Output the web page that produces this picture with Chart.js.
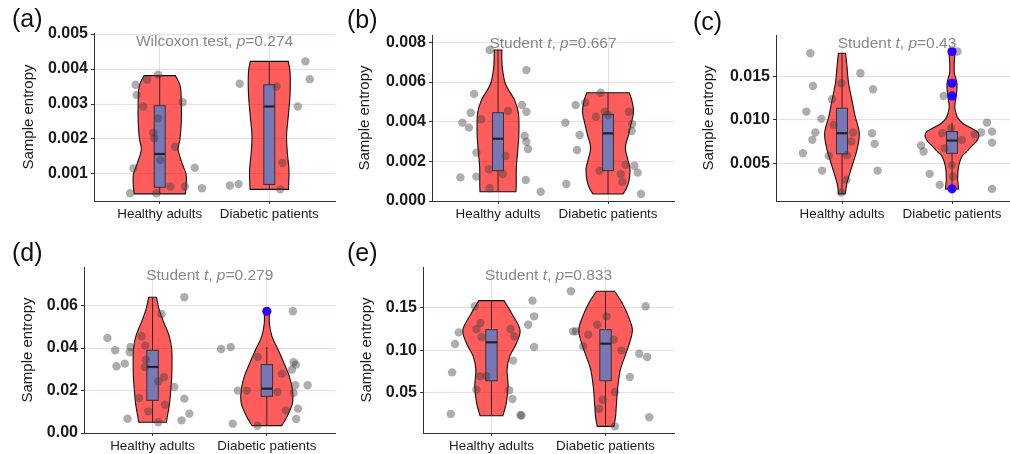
<!DOCTYPE html>
<html>
<head>
<meta charset="utf-8">
<script src="https://cdn.jsdelivr.net/npm/chart.js@4.4.0/dist/chart.umd.min.js"></script>
<style>
  html, body { margin: 0; padding: 0; background: #fff; width: 1010px; height: 454px; overflow: hidden; position: relative; }
  canvas { position: absolute; }
</style>
</head>
<body>
<canvas id="pa" width="340" height="228" style="left:0px;top:0px"></canvas>
<canvas id="pb" width="340" height="228" style="left:340px;top:0px"></canvas>
<canvas id="pc" width="345" height="228" style="left:680px;top:0px"></canvas>
<canvas id="pd" width="340" height="226" style="left:0px;top:228px"></canvas>
<canvas id="pe" width="340" height="226" style="left:340px;top:228px"></canvas>
<script>
// ---- data ----
const categories = ['Healthy adults', 'Diabetic patients'];
const panelTags = ['(a)', '(b)', '(c)', '(d)', '(e)'];
const testTypes = ['wilcoxon', 'student', 'student', 'student', 'student'];
const pValues = ['0.274', '0.667', '0.43', '0.279', '0.833'];

const yRanges = [[0.000227, 0.00503], [0, 0.00837], [0.00064, 0.0198], [0, 0.0782], [0.0018, 0.1986]];
const yTickValues = [
  [0.001, 0.002, 0.003, 0.004, 0.005],
  [0, 0.002, 0.004, 0.006, 0.008],
  [0.005, 0.010, 0.015],
  [0, 0.02, 0.04, 0.06],
  [0.05, 0.10, 0.15]
];
const yTickLabels = [
  ['0.001', '0.002', '0.003', '0.004', '0.005'],
  ['0.000', '0.002', '0.004', '0.006', '0.008'],
  ['0.005', '0.010', '0.015'],
  ['0.00', '0.02', '0.04', '0.06'],
  ['0.05', '0.10', '0.15']
];

// jittered points: [x offset from category, value]
const aHealthyPts = [[-0.22,0.00355],[-0.21,0.00326],[-0.115,0.00369],[-0.015,0.00384],[-0.15,0.00293],[0.21,0.00305],[-0.015,0.00259],[-0.06,0.00218],[-0.05,0.00202],[0.14,0.00178],[0.006,0.0014],[-0.24,0.00116],[0.32,0.00118],[0.097,0.00064],[0.23,0.00064],[0.385,0.00059],[-0.27,0.00045],[-0.03,0.00045]];
const aDiabeticPts = [[-0.27,0.00358],[-0.36,0.00067],[-0.28,0.00071],[0.067,0.0035],[0.33,0.00422],[0.37,0.00371],[0.26,0.00293],[0.12,0.00132],[0.10,0.00056]];
const bHealthyPts = [[-0.076,0.00761],[0.258,0.0066],[-0.218,0.0054],[-0.248,0.00445],[-0.324,0.00395],[-0.264,0.0037],[-0.152,0.00412],[0.091,0.00454],[0.218,0.00484],[0.258,0.0045],[0.242,0.00328],[0.258,0.00299],[0.273,0.00262],[-0.197,0.00244],[0.07,0.00227],[-0.082,0.0016],[0.045,0.00136],[-0.342,0.00119],[-0.197,0.00123],[0.252,0.00106],[-0.076,0.00064],[0.388,0.00047]];
const bDiabeticPts = [[-0.067,0.00546],[-0.294,0.00484],[-0.206,0.00496],[-0.03,0.0045],[-0.11,0.00425],[0.19,0.0045],[-0.388,0.00395],[0.22,0.00388],[0.215,0.00353],[-0.258,0.00333],[-0.282,0.00257],[0.16,0.00182],[0.24,0.00178],[0.27,0.00143],[-0.076,0.00153],[0.115,0.00136],[0.13,0.00097],[-0.379,0.00086],[0.3,0.00035],[0.0,0.00434]];
const cHealthyPts = [[-0.288,0.01769],[-0.264,0.01392],[0.167,0.01538],[0.282,0.01354],[-0.09,0.01238],[-0.006,0.01423],[-0.324,0.01096],[-0.188,0.01012],[-0.242,0.00854],[-0.27,0.0077],[-0.076,0.00942],[0.1,0.00854],[0.085,0.0075],[0.273,0.00846],[0.297,0.00723],[-0.355,0.00615],[-0.12,0.00585],[0.045,0.00596],[-0.18,0.00415],[0.324,0.00415],[0.04,0.00308],[-0.01,0.00162]];
const cDiabeticPts = [[0.05,0.0179],[-0.076,0.01277],[0.0,0.01423],[0.318,0.00969],[0.364,0.00865],[0.264,0.00854],[0.206,0.00835],[0.364,0.00738],[-0.282,0.00704],[-0.258,0.00635],[-0.09,0.00846],[-0.067,0.00673],[0.09,0.00769],[-0.009,0.00904],[0.0,0.00481],[-0.203,0.00377],[0.009,0.00346],[-0.112,0.0025],[0.364,0.00204]];
const dHealthyPts = [[0.278,0.06395],[0.079,0.0561],[-0.395,0.04478],[-0.327,0.03896],[-0.193,0.04053],[-0.199,0.03802],[-0.096,0.04556],[-0.064,0.04116],[-0.058,0.03456],[-0.067,0.03111],[-0.316,0.03142],[-0.243,0.03268],[0.1,0.0264],[0.05,0.02435],[0.19,0.02168],[-0.117,0.0165],[0.278,0.01618],[0.108,0.01335],[-0.038,0.01021],[0.322,0.00911],[-0.219,0.00675],[0.254,0.00597],[0.05,0.00503]];
const dDiabeticPts = [[0.228,0.05735],[-0.4,0.03959],[-0.316,0.04053],[-0.079,0.03582],[0.234,0.03331],[0.254,0.0322],[0.219,0.02985],[0.132,0.02796],[-0.254,0.01995],[-0.175,0.01995],[0.094,0.01932],[0.249,0.02247],[0.357,0.02247],[0.234,0.01885],[0.167,0.01068],[0.272,0.01147],[0.257,0.0066],[-0.298,0.0044],[-0.082,0.00346]];
const eHealthyPts = [[0.36,0.1587],[-0.146,0.152],[0.374,0.1401],[0.322,0.1302],[-0.096,0.1322],[-0.132,0.1251],[-0.287,0.1211],[0.167,0.1251],[0.199,0.1164],[-0.088,0.1156],[-0.319,0.1073],[0.374,0.1038],[0.19,0.0876],[-0.345,0.0737],[-0.102,0.069],[-0.044,0.069],[-0.132,0.0532],[0.155,0.0524],[0.184,0.0421],[-0.357,0.0243],[0.254,0.0231],[0.263,0.0225]];
const eDiabeticPts = [[-0.304,0.1698],[0.351,0.152],[-0.284,0.1223],[-0.26,0.1223],[-0.152,0.1184],[-0.073,0.1302],[0.009,0.1401],[0.073,0.1125],[0.14,0.0998],[-0.196,0.1045],[0.295,0.0958],[0.365,0.0919],[0.213,0.0682],[0.082,0.0504],[-0.026,0.0413],[-0.056,0.0306],[0.383,0.0204],[0.082,0.0097]];

// violin outline: [value, half width in category units]
const aHealthyViolin = [[0.00381,0.144],[0.0035,0.188],[0.003,0.197],[0.0025,0.197],[0.002,0.185],[0.0017,0.168],[0.0013,0.205],[0.001,0.24],[0.0007,0.242],[0.00043,0.233]];
const aDiabeticViolin = [[0.00422,0.173],[0.0039,0.19],[0.0033,0.19],[0.0027,0.175],[0.0021,0.158],[0.0016,0.165],[0.0011,0.18],[0.00056,0.175]];
const bHealthyViolin = [[0.00761,0.035],[0.0068,0.038],[0.0059,0.068],[0.0051,0.15],[0.00442,0.186],[0.0034,0.19],[0.00257,0.18],[0.00173,0.167],[0.00089,0.166],[0.00047,0.164]];
const bDiabeticViolin = [[0.00546,0.194],[0.005,0.22],[0.0045,0.232],[0.004,0.215],[0.0034,0.19],[0.0027,0.158],[0.0021,0.18],[0.0016,0.2],[0.001,0.19],[0.0006,0.165],[0.00035,0.136]];
const cHealthyViolin = [[0.01769,0.033],[0.01615,0.045],[0.01423,0.06],[0.0123,0.09],[0.0104,0.12],[0.00846,0.158],[0.00654,0.136],[0.00462,0.09],[0.0027,0.045],[0.00146,0.03]];
const cDiabeticViolin = [[0.0179,0.03],[0.0169,0.022],[0.01615,0.02],[0.01538,0.022],[0.01423,0.045],[0.0129,0.04],[0.01154,0.025],[0.0106,0.04],[0.01,0.065],[0.0095,0.11],[0.00865,0.23],[0.00808,0.245],[0.0075,0.22],[0.00692,0.175],[0.0063,0.13],[0.00577,0.09],[0.00462,0.06],[0.00308,0.052],[0.00204,0.06]];
const dHealthyViolin = [[0.06395,0.034],[0.0581,0.058],[0.0519,0.1],[0.0456,0.146],[0.0393,0.168],[0.033,0.17],[0.0267,0.168],[0.0204,0.16],[0.0141,0.149],[0.0079,0.13],[0.00503,0.12]];
const dDiabeticViolin = [[0.05735,0.023],[0.0518,0.022],[0.0456,0.044],[0.0393,0.098],[0.033,0.149],[0.0267,0.197],[0.0204,0.224],[0.0141,0.224],[0.0079,0.178],[0.00346,0.13]];
const eHealthyViolin = [[0.1587,0.11],[0.1441,0.175],[0.1243,0.25],[0.1085,0.22],[0.0927,0.16],[0.0769,0.137],[0.0571,0.146],[0.0373,0.13],[0.0223,0.1]];
const eDiabeticViolin = [[0.1698,0.08],[0.1559,0.146],[0.1401,0.2],[0.1243,0.235],[0.1085,0.21],[0.0927,0.17],[0.0769,0.13],[0.0571,0.108],[0.0373,0.096],[0.0215,0.088],[0.0097,0.073]];

// box stats: [lower whisker, Q1, median, Q3, upper whisker]
const aHealthyBox = [0.00043, 0.00062, 0.00157, 0.00295, 0.00381];
const aDiabeticBox = [0.00056, 0.0007, 0.00293, 0.00355, 0.00422];
const bHealthyBox = [0.00047, 0.00153, 0.00314, 0.00445, 0.00761];
const bDiabeticBox = [0.00035, 0.00153, 0.00341, 0.00437, 0.00546];
const cHealthyBox = [0.00146, 0.00608, 0.00846, 0.01135, 0.01769];
const cDiabeticBox = [0.0025, 0.00615, 0.00762, 0.00865, 0.00969];
const dHealthyBox = [0.00503, 0.0154, 0.03111, 0.03896, 0.06395];
const dDiabeticBox = [0.00346, 0.01728, 0.0209, 0.03221, 0.04053];
const eHealthyBox = [0.0223, 0.0638, 0.1093, 0.1243, 0.1587];
const eDiabeticBox = [0.0097, 0.0638, 0.1077, 0.1243, 0.1698];

// boxplot outliers (blue)
const cDiabeticOutliers = [0.0179, 0.01423, 0.01277, 0.00204];
const dDiabeticOutliers = [0.05735];

// ---- layout of each panel (canvas box and wanted plot area, page px) ----
const panels = [
  { id: 'pa', cl: 0, ct: 0, cw: 340, ch: 228, l: 94, t: 33, r: 335, b: 201, titleX: 29, tagX: 12, tagY: 20,
    groups: [[aHealthyPts, aHealthyViolin, aHealthyBox, []], [aDiabeticPts, aDiabeticViolin, aDiabeticBox, []]] },
  { id: 'pb', cl: 340, ct: 0, cw: 340, ch: 228, l: 432, t: 35, r: 674, b: 201, titleX: 365, tagX: 347, tagY: 21,
    groups: [[bHealthyPts, bHealthyViolin, bHealthyBox, []], [bDiabeticPts, bDiabeticViolin, bDiabeticBox, []]] },
  { id: 'pc', cl: 680, ct: 0, cw: 345, ch: 228, l: 776, t: 35, r: 1018, b: 201, titleX: 709, tagX: 693, tagY: 23,
    groups: [[cHealthyPts, cHealthyViolin, cHealthyBox, []], [cDiabeticPts, cDiabeticViolin, cDiabeticBox, cDiabeticOutliers]] },
  { id: 'pd', cl: 0, ct: 228, cw: 340, ch: 226, l: 84, t: 267, r: 336, b: 433, titleX: 28, tagX: 12, tagY: 254,
    groups: [[dHealthyPts, dHealthyViolin, dHealthyBox, []], [dDiabeticPts, dDiabeticViolin, dDiabeticBox, dDiabeticOutliers]] },
  { id: 'pe', cl: 340, ct: 228, cw: 340, ch: 226, l: 423, t: 267, r: 674, b: 433, titleX: 367, tagX: 347, tagY: 254,
    groups: [[eHealthyPts, eHealthyViolin, eHealthyBox, []], [eDiabeticPts, eDiabeticViolin, eDiabeticBox, []]] }
];

const FONT = '"Liberation Sans", Arial, sans-serif';
const gridColor = '#eedcdf';
const axisColor = '#333333';
const textColor = '#1a1a1a';

// smooth curve through pixel points (Catmull-Rom -> bezier)
function curveThrough(ctx, pts) {
  for (let i = 0; i < pts.length - 1; i++) {
    const p0 = pts[i - 1] || pts[i], p1 = pts[i], p2 = pts[i + 1], p3 = pts[i + 2] || pts[i + 1];
    ctx.bezierCurveTo(
      p1[0] + (p2[0] - p0[0]) / 6, p1[1] + (p2[1] - p0[1]) / 6,
      p2[0] - (p3[0] - p1[0]) / 6, p2[1] - (p3[1] - p1[1]) / 6,
      p2[0], p2[1]);
  }
}

function violinPlugin(panel) {
  return {
    id: 'violins',
    beforeDatasetsDraw(chart) {
      const ctx = chart.ctx, xs = chart.scales.x, ys = chart.scales.y;
      panel.groups.forEach((g, gi) => {
        const cat = gi + 1;
        const prof = g[1].slice().sort((p, q) => p[0] - q[0]); // bottom -> top
        const left = prof.map(p => [xs.getPixelForValue(cat - p[1]), ys.getPixelForValue(p[0])]);
        const right = prof.map(p => [xs.getPixelForValue(cat + p[1]), ys.getPixelForValue(p[0])]).reverse();
        ctx.save();
        ctx.beginPath();
        ctx.moveTo(left[0][0], left[0][1]);
        curveThrough(ctx, left);
        ctx.lineTo(right[0][0], right[0][1]);
        curveThrough(ctx, right);
        ctx.closePath();
        ctx.fillStyle = 'rgba(255, 0, 0, 0.64)';
        ctx.fill();
        ctx.lineWidth = 1.1;
        ctx.strokeStyle = '#111';
        ctx.stroke();

        // box and whiskers
        const [wlo, q1, med, q3, whi] = g[2];
        const cx = xs.getPixelForValue(cat);
        const x0 = xs.getPixelForValue(cat - 0.05), x1 = xs.getPixelForValue(cat + 0.05);
        ctx.strokeStyle = '#2a2a2a';
        ctx.lineWidth = 1;
        ctx.beginPath();
        ctx.moveTo(cx, ys.getPixelForValue(whi)); ctx.lineTo(cx, ys.getPixelForValue(q3));
        ctx.moveTo(cx, ys.getPixelForValue(q1)); ctx.lineTo(cx, ys.getPixelForValue(wlo));
        ctx.stroke();
        const yq3 = ys.getPixelForValue(q3), yq1 = ys.getPixelForValue(q1);
        ctx.fillStyle = '#7878b6';
        ctx.fillRect(x0, yq3, x1 - x0, yq1 - yq3);
        ctx.strokeStyle = '#333';
        ctx.strokeRect(x0, yq3, x1 - x0, yq1 - yq3);
        ctx.lineWidth = 2.2;
        ctx.strokeStyle = '#222';
        ctx.beginPath();
        ctx.moveTo(x0, ys.getPixelForValue(med)); ctx.lineTo(x1, ys.getPixelForValue(med));
        ctx.stroke();
        ctx.restore();
      });
    }
  };
}

function labelPlugin(panel, idx) {
  return {
    id: 'labels',
    afterDraw(chart) {
      const ctx = chart.ctx, area = chart.chartArea;
      ctx.save();
      // panel tag
      ctx.fillStyle = '#111';
      ctx.font = '25px ' + FONT;
      ctx.textBaseline = 'middle';
      ctx.textAlign = 'left';
      ctx.fillText(panelTags[idx], panel.tagX - panel.cl, panel.tagY - panel.ct);
      // test annotation with italic symbols
      const segs = testTypes[idx] === 'wilcoxon'
        ? [['Wilcoxon test, ', false], ['p', true], ['=' + pValues[idx], false]]
        : [['Student ', false], ['t', true], [', ', false], ['p', true], ['=' + pValues[idx], false]];
      const fontFor = it => (it ? 'italic ' : '') + '15.5px ' + FONT;
      let total = 0;
      segs.forEach(s => { ctx.font = fontFor(s[1]); total += ctx.measureText(s[0]).width; });
      let x = (area.left + area.right) / 2 - total / 2;
      const y = area.top + 9;
      ctx.fillStyle = '#878787';
      segs.forEach(s => {
        ctx.font = fontFor(s[1]);
        ctx.fillText(s[0], x, y);
        x += ctx.measureText(s[0]).width;
      });
      ctx.restore();
    }
  };
}

panels.forEach((panel, idx) => {
  const datasets = [];
  panel.groups.forEach((g, gi) => {
    if (g[3].length) {
      datasets.push({
        data: g[3].map(v => ({ x: gi + 1, y: v })),
        pointRadius: 4.6, pointBackgroundColor: '#2a00ff', pointBorderWidth: 0
      });
    }
  });
  panel.groups.forEach((g, gi) => {
    datasets.push({
      data: g[0].map(p => ({ x: gi + 1 + p[0], y: p[1] })),
      pointRadius: 4.2, pointBackgroundColor: 'rgba(60, 60, 60, 0.42)', pointBorderWidth: 0
    });
  });

  new Chart(document.getElementById(panel.id), {
    type: 'scatter',
    data: { datasets },
    options: {
      responsive: false,
      animation: false,
      events: [],
      layout: { padding: { top: panel.t - panel.ct, right: panel.cl + panel.cw - panel.r, left: 0, bottom: 0 } },
      plugins: { legend: { display: false }, tooltip: { enabled: false } },
      scales: {
        x: {
          type: 'linear', min: 0.4, max: 2.6,
          afterBuildTicks: axis => { axis.ticks = [{ value: 1 }, { value: 2 }]; },
          afterFit: axis => { axis.height = panel.ct + panel.ch - panel.b; axis.paddingLeft = 0; axis.paddingRight = 0; },
          ticks: { callback: (v, i) => categories[i], color: textColor, font: { family: FONT, size: 13.4 }, padding: 2, maxRotation: 0, autoSkip: false },
          grid: { color: gridColor, lineWidth: 1, drawTicks: true, tickLength: 3, tickColor: axisColor },
          border: { display: true, color: axisColor, width: 1 }
        },
        y: {
          type: 'linear', min: yRanges[idx][0], max: yRanges[idx][1],
          afterBuildTicks: axis => { axis.ticks = yTickValues[idx].map(v => ({ value: v })); },
          afterFit: axis => { axis.width = panel.l - panel.cl; axis.paddingTop = 0; axis.paddingBottom = 0; },
          ticks: { callback: (v, i) => yTickLabels[idx][i], color: textColor, font: { family: FONT, size: 16, weight: 'bold' }, padding: 3 },
          grid: { color: gridColor, lineWidth: 1, drawTicks: true, tickLength: 3, tickColor: axisColor },
          border: { display: true, color: axisColor, width: 1 },
          title: { display: true, text: 'Sample entropy', color: textColor, font: { family: FONT, size: 15 },
                   padding: { top: panel.titleX - panel.cl - 9, bottom: 0 } }
        }
      }
    },
    plugins: [violinPlugin(panel), labelPlugin(panel, idx)]
  });
});
</script>
</body>
</html>
